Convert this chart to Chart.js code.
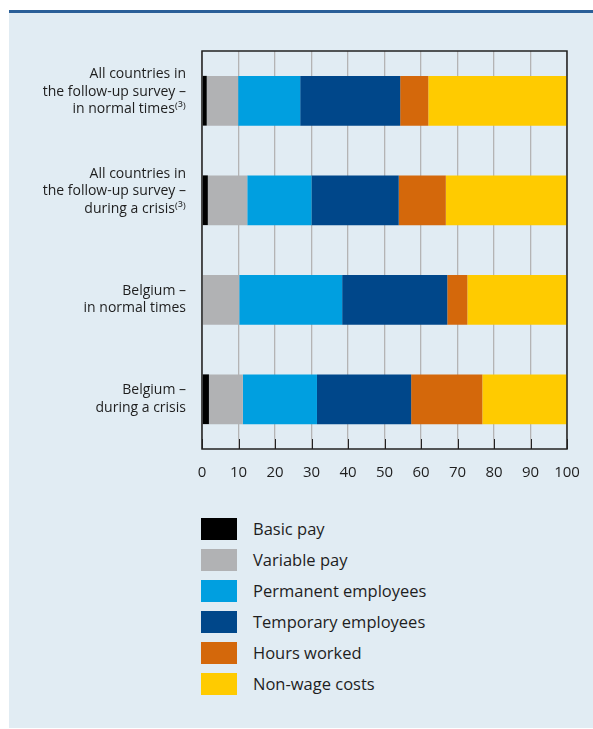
<!DOCTYPE html>
<html>
<head>
<meta charset="utf-8">
<script src="https://cdn.jsdelivr.net/npm/chart.js@4.4.1/dist/chart.umd.min.js"></script>
<style>
  body { margin: 0; background: #fff; width: 593px; height: 729px; position: relative; overflow: hidden; font-family: "Open Sans", sans-serif; }
  #topline { position: absolute; left: 9px; top: 10px; width: 584px; height: 3px; background: #2a5f98; }
  #panel { position: absolute; left: 9px; top: 13px; width: 584px; height: 715px; background: #e1ecf3; }
  #chart1 { position: absolute; left: 0; top: 0; }
  #legend { position: absolute; left: 201px; top: 518px; }
  .item { height: 31px; display: flex; align-items: flex-start; }
  .box { width: 36px; height: 22px; margin-right: 16px; }
  .txt { font-size: 16.5px; color: #1e1e1e; line-height: 22px; }
</style>
</head>
<body>
<div id="topline"></div>
<div id="panel"></div>
<canvas id="chart1" width="593" height="500"></canvas>
<div id="legend"></div>
<script>
// categories (multi-line labels), the empty last line lifts the 3-line labels a bit
var categories = [
  ['All countries in', 'the follow-up survey \u2013', 'in normal times\u207D\u00B3\u207E', ''],
  ['All countries in', 'the follow-up survey \u2013', 'during a crisis\u207D\u00B3\u207E', ''],
  ['Belgium \u2013', 'in normal times'],
  ['Belgium \u2013', 'during a crisis']
];

// series values (% of firms)
var basicPay    = [1.3, 1.6, 0, 1.9];
var variablePay = [8.6, 10.8, 10.2, 9.3];
var permanent   = [17.0, 17.6, 28.2, 20.3];
var temporary   = [27.4, 23.9, 28.8, 25.8];
var hoursWorked = [7.7, 12.9, 5.5, 19.5];
var nonWage     = [38.0, 33.2, 27.3, 23.2];

var seriesNames = ['Basic pay', 'Variable pay', 'Permanent employees', 'Temporary employees', 'Hours worked', 'Non-wage costs'];
var seriesColors = ['#000000', '#b1b2b4', '#009fe0', '#00478a', '#d4680b', '#ffcb00'];
var seriesData = [basicPay, variablePay, permanent, temporary, hoursWorked, nonWage];

var xTicks = [0, 10, 20, 30, 40, 50, 60, 70, 80, 90, 100];

var datasets = seriesData.map(function (d, i) {
  return {
    label: seriesNames[i],
    data: d,
    backgroundColor: seriesColors[i],
    borderWidth: 0,
    barPercentage: 0.5,
    categoryPercentage: 1
  };
});

// frame around the plot + short inward tick marks at the bottom
var framePlugin = {
  id: 'frame',
  afterDatasetsDraw: function (chart) {
    var ctx = chart.ctx;
    var a = chart.chartArea;
    var xs = chart.scales.x;
    ctx.save();
    ctx.strokeStyle = '#222';
    ctx.lineWidth = 1;
    xTicks.forEach(function (t) {
      var px = Math.round(xs.getPixelForValue(t)) + 0.5;
      ctx.beginPath();
      ctx.moveTo(px, a.bottom - 10);
      ctx.lineTo(px, a.bottom);
      ctx.stroke();
    });
    ctx.lineWidth = 1.5;
    ctx.strokeRect(a.left, a.top, a.right - a.left, a.bottom - a.top);
    ctx.restore();
  }
};

var ctx1 = document.getElementById('chart1').getContext('2d');
var chart1 = new Chart(ctx1, {
  type: 'bar',
  data: { labels: categories, datasets: datasets },
  plugins: [framePlugin],
  options: {
    indexAxis: 'y',
    responsive: false,
    animation: false,
    devicePixelRatio: 1,
    layout: { padding: { top: 51, right: 26, left: 0, bottom: 0 } },
    plugins: {
      legend: { display: false },
      tooltip: { enabled: false }
    },
    scales: {
      x: {
        stacked: true,
        min: 0,
        max: 100,
        afterBuildTicks: function (scale) {
          scale.ticks = xTicks.map(function (v) { return { value: v }; });
        },
        afterFit: function (scale) {
          scale.height = 48;
          scale.paddingLeft = 0;
          scale.paddingRight = 0;
        },
        grid: { color: '#b4b4b4', lineWidth: 1.3, drawTicks: false },
        border: { display: false },
        ticks: {
          padding: 15,
          color: '#1e1e1e',
          font: { family: 'Open Sans', size: 15 }
        }
      },
      y: {
        stacked: true,
        afterFit: function (scale) { scale.width = 202; },
        grid: { display: false, drawTicks: false },
        border: { display: false },
        ticks: {
          padding: 16,
          color: '#1e1e1e',
          font: { family: 'Open Sans', size: 14, lineHeight: 1.25 }
        }
      }
    }
  }
});

// html legend, one item per row
var legendDiv = document.getElementById('legend');
chart1.data.datasets.forEach(function (ds) {
  var row = document.createElement('div');
  row.className = 'item';
  row.innerHTML = '<div class="box" style="background:' + ds.backgroundColor + '"></div><div class="txt">' + ds.label + '</div>';
  legendDiv.appendChild(row);
});
</script>
</body>
</html>
